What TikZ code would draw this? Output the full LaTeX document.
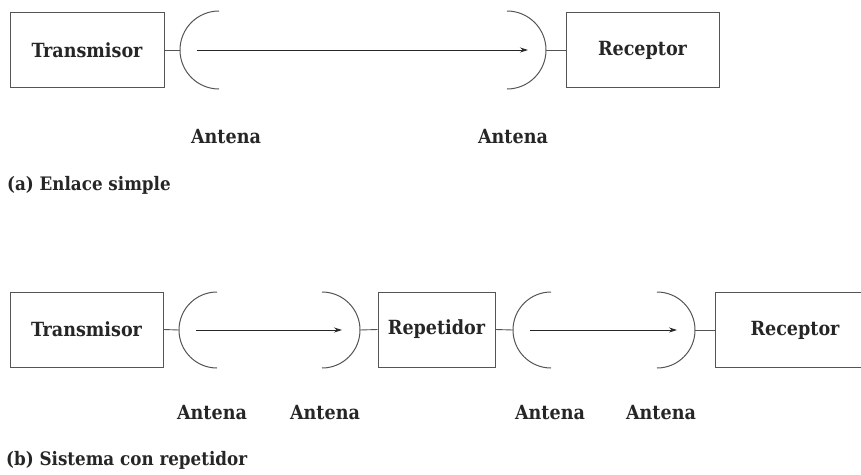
\documentclass[tikz,border=0pt]{standalone}
\usepackage{fontspec}
\setmainfont{DejaVu Serif Condensed}
\usetikzlibrary{arrows.meta}
\definecolor{ink}{HTML}{262626}
\definecolor{linec}{HTML}{555555}
\tikzset{
  blockbox/.style={draw=linec, line width=1pt, inner sep=0pt},
  lbl/.style={text=ink, font=\fontsize{19.5}{22}\bfseries\selectfont, inner sep=0pt},
  captxt/.style={text=ink, font=\fontsize{18.6}{21}\bfseries\selectfont, inner sep=0pt, anchor=west},
  wire/.style={draw=linec, line width=0.9pt},
  ant/.style={draw=linec, line width=1pt},
  sig/.style={draw=ink, line width=0.8pt, -{Stealth[length=8pt,width=5pt]}}
}
\begin{document}
\begin{tikzpicture}[x=1pt,y=-1pt]
\clip (0,0) rectangle (861,474);
\fill[white] (0,0) rectangle (861,474);
% ---------- (a) ----------
\node[blockbox, minimum width=154pt, minimum height=75pt] (tA) at (87,50) {};
\node[lbl] at (tA.center) {Transmisor};
\node[blockbox, minimum width=153pt, minimum height=75pt] (rA) at (642.5,50) {};
\node[lbl] at (rA.center) {Receptor};
\coordinate (a1t) at (219,11);
\coordinate (a1l) at (180,50);
\coordinate (a2t) at (507,11);
\coordinate (a2r) at (546,50);
\draw[ant] (a1t) arc[start angle=-90, end angle=-270, radius=39];
\draw[ant] (a2t) arc[start angle=-90, end angle=90, radius=39];
\draw[wire] (tA.east) -- (a1l);
\draw[wire] (a2r) -- (rA.west);
\coordinate (s1) at (197,50);
\coordinate (e1) at (528,50);
\draw[sig] (s1) -- (e1);
\node[lbl] (la1) at (226,137) {Antena};
\node[lbl] (la2) at (513,137) {Antena};
\node[captxt] (capA) at (7,185) {(a) Enlace simple};
% ---------- (b) ----------
\node[blockbox, minimum width=153pt, minimum height=75pt] (tB) at (86.5,329.5) {};
\node[lbl] at (tB.center) {Transmisor};
\node[blockbox, minimum width=117pt, minimum height=75pt] (rep) at (436.5,329.5) {};
\node[lbl] at (rep.center) {Repetidor};
\node[blockbox, minimum width=170pt, minimum height=75pt] (rB) at (800,330) {};
\node[lbl] at (795,330) {Receptor};
\coordinate (b1t) at (217,292);
\coordinate (b1l) at (179,330);
\coordinate (b2t) at (322,292);
\coordinate (b2r) at (360,330);
\coordinate (b3t) at (551,292);
\coordinate (b3l) at (513,330);
\coordinate (b4t) at (657,292);
\coordinate (b4r) at (695,330);
\draw[ant] (b1t) arc[start angle=-90, end angle=-270, radius=38];
\draw[ant] (b2t) arc[start angle=-90, end angle=90, radius=38];
\draw[ant] (b3t) arc[start angle=-90, end angle=-270, radius=38];
\draw[ant] (b4t) arc[start angle=-90, end angle=90, radius=38];
\draw[wire] (tB.east) -- (b1l);
\draw[wire] (b2r) -- (rep.west);
\draw[wire] (rep.east) -- (b3l);
\draw[wire] (b4r) -- (rB.west);
\coordinate (s2) at (196,330);
\coordinate (e2) at (342,330);
\coordinate (s3) at (530,330);
\coordinate (e3) at (677,330);
\draw[sig] (s2) -- (e2);
\draw[sig] (s3) -- (e3);
\node[lbl] (lb1) at (212,413) {Antena};
\node[lbl] (lb2) at (325,413) {Antena};
\node[lbl] (lb3) at (550,413) {Antena};
\node[lbl] (lb4) at (661,413) {Antena};
\node[captxt] (capB) at (6,460) {(b) Sistema con repetidor};
\end{tikzpicture}
\end{document}
